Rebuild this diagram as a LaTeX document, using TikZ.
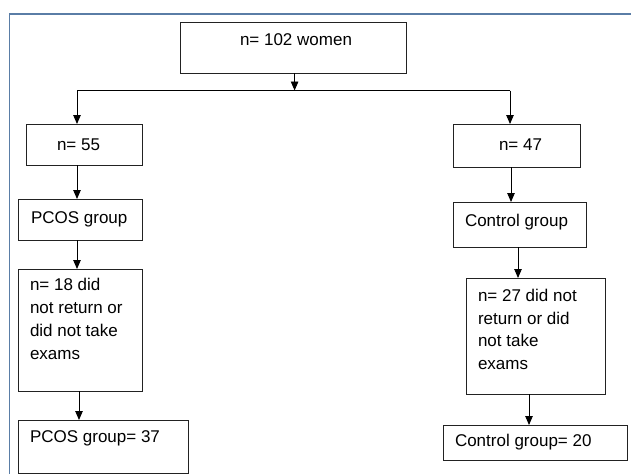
\documentclass[tikz,border=0pt]{standalone}
\usepackage{fontspec}
\setmainfont{Liberation Sans}
\usetikzlibrary{arrows.meta}
\definecolor{framecol}{HTML}{5A7DA6}
\definecolor{boxline}{HTML}{222222}
\tikzset{
  box/.style={draw=boxline, line width=1pt, rectangle, inner sep=0pt, outer sep=0pt},
  txt/.style={anchor=base west, inner sep=0pt, outer sep=0pt, align=left,
    font=\fontsize{17}{22.7}\selectfont},
  arr/.style={draw=black, line width=0.9pt, -{Triangle[length=9pt,width=7.5pt]}},
  ln/.style={draw=black, line width=0.9pt},
}
\begin{document}
\begin{tikzpicture}[x=1pt,y=-1pt]
\useasboundingbox (0,0) rectangle (631,474);
% frame (top and left edges visible)
\draw[framecol, line width=1.8pt] (9.5,474) -- (9.5,14) -- (631,14);

% boxes
\node[box, minimum width=226pt, minimum height=51pt] (top) at (293,47.5) {};
\node[box, minimum width=116pt, minimum height=41pt] (n55) at (84,144.5) {};
\node[box, minimum width=127pt, minimum height=43pt] (n47) at (516.5,145.5) {};
\node[box, minimum width=124pt, minimum height=41pt] (pcos) at (80,219.5) {};
\node[box, minimum width=124pt, minimum height=122pt] (n18) at (80,330) {};
\node[box, minimum width=170pt, minimum height=53pt] (pcos37) at (103,446.5) {};
\node[box, minimum width=133pt, minimum height=45pt] (ctrl) at (519.5,224.5) {};
\node[box, minimum width=139pt, minimum height=116pt] (n27) at (535.5,336) {};
\node[box, minimum width=184pt, minimum height=35pt] (ctrl20) at (535,442.5) {};

% texts (multi-line texts anchored at the baseline of their last line)
\node[txt] (t-top) at (240,45) {n= 102 women};
\node[txt] (t-n55) at (57,150) {n= 55};
\node[txt] (t-n47) at (499,150) {n= 47};
\node[txt] (t-pcos) at (31,223) {PCOS group};
\node[txt] (t-n18) at (30,359) {n= 18 did\\not return or\\did not take\\exams};
\node[txt] (t-pcos37) at (30,442) {PCOS group= 37};
\node[txt] (t-ctrl) at (465,226) {Control group};
\node[txt] (t-n27) at (478,369.5) {n= 27 did not\\return or did\\not take\\exams};
\node[txt] (t-ctrl20) at (455,446.7) {Control group= 20};

% connectors
\coordinate (j) at (294.6,90.5);
\coordinate (jl) at (77,90.5);
\coordinate (jr) at (510,90.5);
\draw[arr] (top.south -| j) -- (j);
\draw[ln] (jl) -- (jr);
\draw[arr] (jl) -- (jl |- n55.north);
\draw[arr] (jr) -- (jr |- n47.north);
\draw[arr] ([xshift=-7pt]n55.south) -- ([xshift=-7pt]n55.south |- pcos.north);
\draw[arr] ([xshift=-3pt]pcos.south) -- ([xshift=-3pt]pcos.south |- n18.north);
\draw[arr] ([xshift=-1pt]n18.south) -- ([xshift=-1pt]n18.south |- pcos37.north);
\draw[arr] ([xshift=-5.5pt]n47.south) -- ([xshift=-5.5pt]n47.south |- ctrl.north);
\draw[arr] ([xshift=-1.5pt]ctrl.south) -- ([xshift=-1.5pt]ctrl.south |- n27.north);
\draw[arr] ([xshift=-6.5pt]n27.south) -- ([xshift=-6.5pt]n27.south |- ctrl20.north);
\end{tikzpicture}
\end{document}
